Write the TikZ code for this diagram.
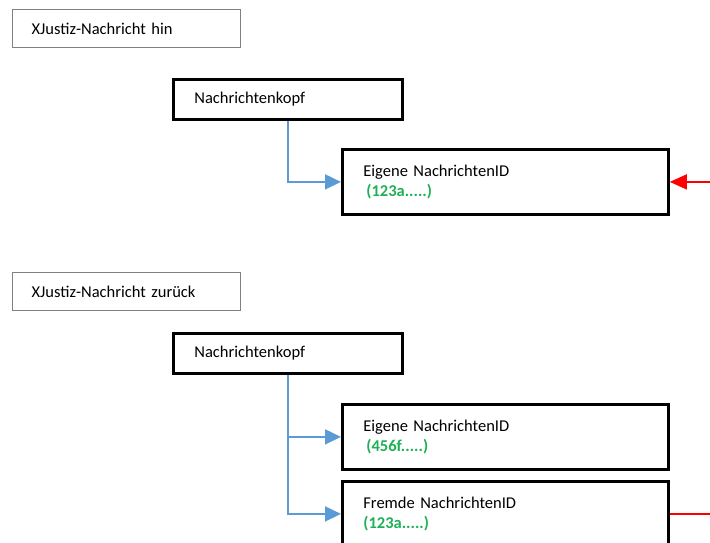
\documentclass[tikz,border=0pt]{standalone}
\usepackage{fontspec}
\setmainfont{Carlito}
\usepackage{tikz}
\usetikzlibrary{shapes,arrows.meta}

\definecolor{linkblue}{RGB}{91,155,213}
\definecolor{idgreen}{RGB}{30,176,85}
\definecolor{framegray}{RGB}{128,128,128}

\tikzset{
	titlebox/.style={draw=framegray, line width=1.3pt, anchor=north west, minimum width=228pt, minimum height=38pt, text width=190pt, inner xsep=19pt, align=left},
	headbox/.style={draw, line width=2.8pt, anchor=north west, minimum width=229pt, minimum height=40pt, text width=187pt, inner xsep=21pt, align=left},
	idbox/.style={draw, line width=2.8pt, anchor=north west, minimum width=326pt, minimum height=65pt, text width=284pt, inner xsep=21pt, align=left},
	feed/.style={linkblue, line width=1.7pt, -{Triangle[length=16pt,width=15pt]}},
	back/.style={red, line width=1.5pt},
}
\newcommand{\msgid}[1]{{\color{idgreen}\bfseries #1}}

\begin{document}
\begin{tikzpicture}[x=1pt,y=-1pt]\fontsize{16.5}{20}\selectfont
	\useasboundingbox (0,0) rectangle (710,542);
	% hin
	\node[titlebox] (hin) at (12,9) {XJustiz-Nachricht hin};
	\node[headbox] (kopfhin) at (172,78) {Nachrichtenkopf};
	\node[idbox] (eigenhin) at (341,148) {Eigene NachrichtenID\\\hspace{3pt}\msgid{(123a.....)}};
	\coordinate (rueckweg) at (710,0);
	\draw[feed] (kopfhin.south) |- (eigenhin.west);
	\draw[back, -{Triangle[length=17pt,width=15pt]}] (eigenhin.east -| rueckweg) -- (eigenhin.east);
	% zurueck
	\node[titlebox] (zurueck) at (12,272) {XJustiz-Nachricht zurück};
	\node[headbox] (kopfzurueck) at (172,332) {Nachrichtenkopf};
	\node[idbox] (eigenzurueck) at (341,403) {Eigene NachrichtenID\\\hspace{3pt}\msgid{(456f.....)}};
	\node[idbox] (fremdzurueck) at (341,480) {Fremde NachrichtenID\\\msgid{(123a.....)}};
	\coordinate (verweis) at (710,0);
	\draw[feed] (kopfzurueck.south) |- (eigenzurueck.west);
	\draw[feed] (kopfzurueck.south) |- (fremdzurueck.west);
	\draw[back] (fremdzurueck.east) -- (fremdzurueck.east -| verweis);
\end{tikzpicture}
\end{document}
